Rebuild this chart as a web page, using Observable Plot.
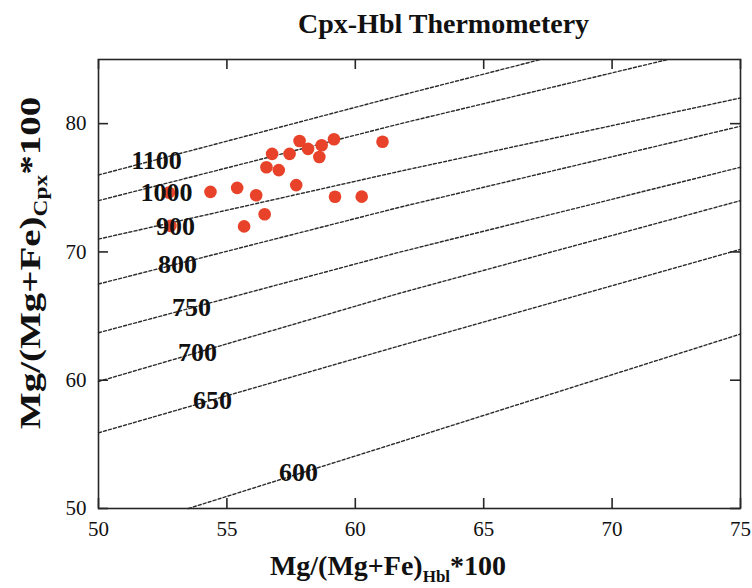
<!DOCTYPE html>
<html><head><meta charset="utf-8">
<script src="https://cdn.jsdelivr.net/npm/d3@7"></script>
<script src="https://cdn.jsdelivr.net/npm/@observablehq/plot@0.6"></script>
<style>
body{margin:0;background:#fff;width:752px;height:588px;overflow:hidden;font-family:"Liberation Serif","Times New Roman",serif;}
#title{height:45px;box-sizing:border-box;padding-top:10px;padding-left:298px;font-size:28px;font-weight:bold;line-height:1;white-space:nowrap;color:#111;}
</style></head><body>
<div id="title">Cpx-Hbl Thermometery</div>
<div id="chart"></div>
<script>
// Sample points: Mg# of hornblende (x) and clinopyroxene (y)
const hblMg = [54.36, 55.40, 56.14, 55.67, 56.47, 56.54, 56.76, 57.02, 57.44, 57.83, 57.70, 58.16, 58.60, 58.69, 59.17, 59.21, 60.25, 61.06, 52.74, 52.80];
const cpxMg = [74.68, 74.99, 74.42, 71.99, 72.94, 76.60, 77.64, 76.38, 77.64, 78.65, 75.21, 78.03, 77.40, 78.32, 78.78, 74.30, 74.31, 78.59, 74.62, 72.03];

// Isotherms (°C), each read as three points along the dashed line
const isoTemps = ["1100", "1000", "900", "800", "750", "700", "650", "600"];
const isoX = [
  [50, 61.76, 67.22],
  [50, 61.76, 72.17],
  [50, 61.76, 75],
  [50, 61.76, 75],
  [50, 61.76, 75],
  [50, 61.76, 75],
  [50, 61.76, 75],
  [53.5, 61.76, 75]
];
const isoY = [
  [76.0, 82.2, 85.0],
  [74.0, 80.0, 85.0],
  [71.0, 76.3, 82.0],
  [67.5, 73.5, 79.8],
  [63.7, 70.0, 76.6],
  [59.9, 66.8, 74.0],
  [55.9, 62.7, 70.2],
  [50.0, 55.2, 63.6]
];
// Isotherm label anchor positions
const labelX = [52.26, 52.65, 53.0, 53.08, 53.62, 53.86, 54.44, 57.79];
const labelY = [77.09, 74.59, 71.94, 68.99, 65.63, 62.13, 58.39, 52.77];

const xTicks = [50, 55, 60, 65, 70, 75];
const yTicks = [50, 60, 70, 80];

const points = hblMg.map((x, i) => ({x, y: cpxMg[i]}));
const isoRows = isoTemps.flatMap((t, i) => isoX[i].map((x, j) => ({t, x, y: isoY[i][j]})));
const labels = isoTemps.map((t, i) => ({t, x: labelX[i], y: labelY[i]}));

const W = 752, H = 543, mL = 98, mR = 12, mT = 14, mB = 80;
const innerW = W - mL - mR, innerH = H - mT - mB, tk = 10;
const ink = "#262626";

const plot = Plot.plot({
  width: W, height: H,
  marginLeft: mL, marginRight: mR, marginTop: mT, marginBottom: mB,
  style: {fontFamily: "'Liberation Serif', 'Times New Roman', serif", background: "#fff", color: "#111"},
  x: {domain: [50, 75]},
  y: {domain: [50, 85]},
  marks: [
    Plot.line(isoRows, {x: "x", y: "y", z: "t", stroke: "#2b2b2b", strokeWidth: 1.4, strokeDasharray: "3,2.2"}),
    Plot.dot(points, {x: "x", y: "y", r: 6.3, fill: "#e8432a", stroke: "none"}),
    Plot.text(labels, {x: "x", y: "y", text: "t", fontSize: 26, fontWeight: "bold", fill: "#111"}),
    Plot.ruleX(xTicks, {stroke: ink, strokeWidth: 1.6, insetTop: innerH - tk}),
    Plot.ruleX(xTicks, {stroke: ink, strokeWidth: 1.6, insetBottom: innerH - tk}),
    Plot.ruleY(yTicks, {stroke: ink, strokeWidth: 1.6, insetRight: innerW - tk}),
    Plot.ruleY(yTicks, {stroke: ink, strokeWidth: 1.6, insetLeft: innerW - tk}),
    Plot.axisX(xTicks, {anchor: "bottom", tickSize: 0, tickPadding: 13, fontSize: 21, label: null}),
    Plot.axisY(yTicks, {anchor: "left", tickSize: 0, tickPadding: 12, fontSize: 21, label: null}),
    Plot.frame({stroke: ink, strokeWidth: 1.6})
  ]
});
document.getElementById("chart").appendChild(plot);

const svg = d3.select(plot);
const xl = svg.append("text")
  .attr("x", 388).attr("y", 530)
  .attr("text-anchor", "middle").attr("font-size", 28).attr("font-weight", "bold").attr("fill", "#111")
  .style("font-family", "'Liberation Serif', serif");
xl.append("tspan").text("Mg/(Mg+Fe)");
xl.append("tspan").attr("font-size", 17).attr("dy", 7).text("Hbl");
xl.append("tspan").attr("font-size", 28).attr("dy", -7).text("*100");

const yl = svg.append("text")
  .attr("transform", "translate(40,218) rotate(-90) scale(1.3,1)")
  .attr("text-anchor", "middle").attr("font-size", 30).attr("font-weight", "bold").attr("fill", "#111")
  .style("font-family", "'Liberation Serif', serif");
yl.append("tspan").text("Mg/(Mg+Fe)");
yl.append("tspan").attr("font-size", 18).attr("dy", 7).text("Cpx");
yl.append("tspan").attr("font-size", 30).attr("dy", -7).text("*100");
</script>
</body></html>
